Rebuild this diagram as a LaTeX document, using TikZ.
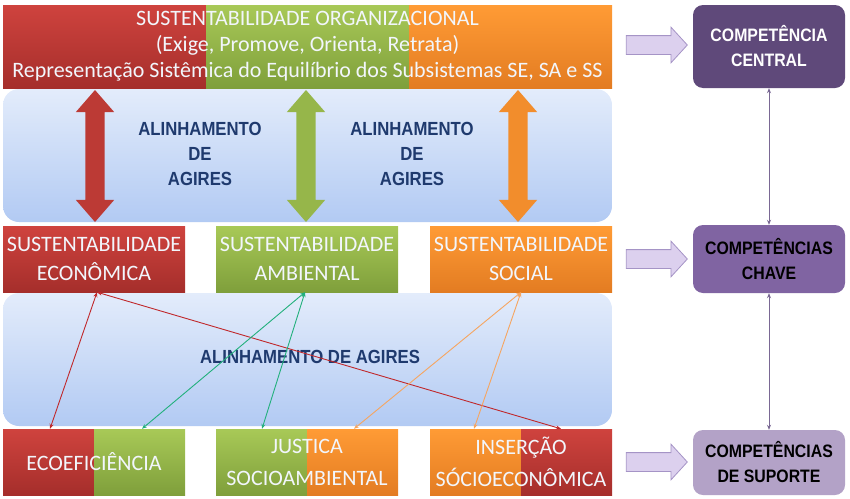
\documentclass[tikz,border=0pt]{standalone}
\usepackage{fontspec}
\setmainfont{Carlito}
\newfontfamily\condbold[FakeStretch=0.88]{Liberation Sans Bold}
\usetikzlibrary{arrows.meta,shapes.arrows,calc}
\definecolor{sredtop}{HTML}{CF433E}
\definecolor{sredbot}{HTML}{A52E2B}
\definecolor{sgreentop}{HTML}{A8C957}
\definecolor{sgreenbot}{HTML}{7F9F3B}
\definecolor{sorangetop}{HTML}{FF9B35}
\definecolor{sorangebot}{HTML}{E37C22}
\definecolor{bandtop}{HTML}{E3ECFB}
\definecolor{bandbot}{HTML}{B2CAF3}
\definecolor{navy}{HTML}{1F3A6E}
\definecolor{paletext}{HTML}{F2F6FC}
\definecolor{purpledark}{HTML}{5F497A}
\definecolor{purplemid}{HTML}{8064A2}
\definecolor{purplelight}{HTML}{B3A2C7}
\definecolor{lavender}{HTML}{DCD0EE}
\definecolor{lavenderline}{HTML}{A594C6}
\definecolor{linkred}{HTML}{C0282B}
\definecolor{linkgreen}{HTML}{22B07C}
\definecolor{linkorange}{HTML}{F6A560}
\definecolor{linkpurple}{HTML}{7A6894}

\begin{document}
\begin{tikzpicture}[x=1pt,y=-1pt,
  box/.style={inner sep=0pt,minimum width=182,minimum height=66,align=center,
    text=paletext,font=\fontsize{22}{29}\selectfont},
  solidbox/.style={box,top color=#1top,bottom color=#1bot},
  splitbox/.style 2 args={box,font=\fontsize{22}{32}\selectfont,
    path picture={
      \shade[top color=#1top,bottom color=#1bot] (path picture bounding box.north west) rectangle (path picture bounding box.south);
      \shade[top color=#2top,bottom color=#2bot] (path picture bounding box.north) rectangle (path picture bounding box.south east);}},
  band/.style={rounded corners=16pt,top color=bandtop,bottom color=bandbot,minimum width=609,minimum height=133},
  bandtext/.style={text=navy,align=center,font=\condbold\fontsize{19}{25}\selectfont},
  bigarrow/.style={double arrow,rotate=90,fill=#1top!55!#1bot,minimum height=132,inner xsep=0pt,
    inner ysep=9.5pt,double arrow head extend=9.5pt,double arrow tip angle=82},
  compbox/.style={rounded corners=10pt,minimum width=152,align=center,inner sep=0pt,
    font=\condbold\fontsize{18}{25}\selectfont},
  pointer/.style={single arrow,fill=lavender,draw=lavenderline,line width=0.8pt,minimum height=61,
    inner xsep=0pt,inner ysep=9pt,single arrow head extend=8.5pt,single arrow tip angle=95},
  link/.style={{Stealth[length=5pt,width=4pt]}-{Stealth[length=5pt,width=4pt]},line width=0.9pt},
]
  \useasboundingbox (0,0) rectangle (850,498);

  % bands of alignment
  \node[band] (band1) at (307.5,155.5) {};
  \node[band] (band2) at (307.5,359.5) {};

  % top banner
  \node[box,minimum width=609,minimum height=83,font=\fontsize{22}{26}\selectfont,
    path picture={
      \shade[top color=sredtop,bottom color=sredbot] (path picture bounding box.north west) rectangle ($(path picture bounding box.south west)!1/3!(path picture bounding box.south east)$);
      \shade[top color=sgreentop,bottom color=sgreenbot] ($(path picture bounding box.north west)!1/3!(path picture bounding box.north east)$) rectangle ($(path picture bounding box.south west)!2/3!(path picture bounding box.south east)$);
      \shade[top color=sorangetop,bottom color=sorangebot] ($(path picture bounding box.north west)!2/3!(path picture bounding box.north east)$) rectangle (path picture bounding box.south east);}]
    (org) at (307.5,46.5) {SUSTENTABILIDADE ORGANIZACIONAL\\(Exige, Promove, Orienta, Retrata)\\Representação Sistêmica do Equilíbrio dos Subsistemas SE, SA e SS};

  % vertical alignment
  \node[bigarrow=sred] (arr1) at (95,156) {};
  \node[bigarrow=sgreen] (arr2) at (306,156) {};
  \node[bigarrow=sorange] (arr3) at (518,156) {};
  \node[bandtext] (al1) at (200,154) {ALINHAMENTO\\DE\\AGIRES};
  \node[bandtext] (al2) at (412,154) {ALINHAMENTO\\DE\\AGIRES};

  % three subsystems
  \node[solidbox=sred] (econ) at (94,259) {SUSTENTABILIDADE\\ECONÔMICA};
  \node[solidbox=sgreen] (amb) at (307,259) {SUSTENTABILIDADE\\AMBIENTAL};
  \node[solidbox=sorange] (soc) at (521,259) {SUSTENTABILIDADE\\SOCIAL};

  \node[bandtext] (al3) at (310,357) {ALINHAMENTO DE AGIRES};

  % combined dimensions
  \node[splitbox={sred}{sgreen}] (ecoef) at (94,462) {ECOEFICIÊNCIA};
  \node[splitbox={sgreen}{sorange}] (just) at (307,462) {JUSTICA\\SOCIOAMBIENTAL};
  \node[splitbox={sorange}{sred}] (ins) at (521,462) {INSERÇÃO\\SÓCIOECONÔMICA};

  \draw[link,linkred] ([xshift=3]econ.south) -- ([xshift=-44]ecoef.north);
  \draw[link,linkred] ([xshift=3]econ.south) -- ([xshift=40]ins.north);
  \draw[link,linkgreen] ([xshift=-2]amb.south) -- ([xshift=48]ecoef.north);
  \draw[link,linkgreen] ([xshift=-2]amb.south) -- ([xshift=-45]just.north);
  \draw[link,linkorange] (soc.south) -- ([xshift=47]just.north);
  \draw[link,linkorange] (soc.south) -- ([xshift=-47]ins.north);

  % competences
  \node[compbox,fill=purpledark,text=white,minimum height=83] (central) at (769,46.5) {COMPETÊNCIA\\CENTRAL};
  \node[compbox,fill=purplemid,text=black,minimum height=68] (chave) at (769,259) {COMPETÊNCIAS\\CHAVE};
  \node[compbox,fill=purplelight,text=black,minimum height=65] (suporte) at (769,462.5) {COMPETÊNCIAS\\DE SUPORTE};

  \node[pointer] (p1) at (652.5,45) {};
  \node[pointer] (p2) at (652.5,259) {};
  \node[pointer] (p3) at (652.5,462) {};

  \draw[link,linkpurple,line width=0.7pt] (central) -- (chave);
  \draw[link,linkpurple,line width=0.7pt] (chave) -- (suporte);
\end{tikzpicture}
\end{document}
